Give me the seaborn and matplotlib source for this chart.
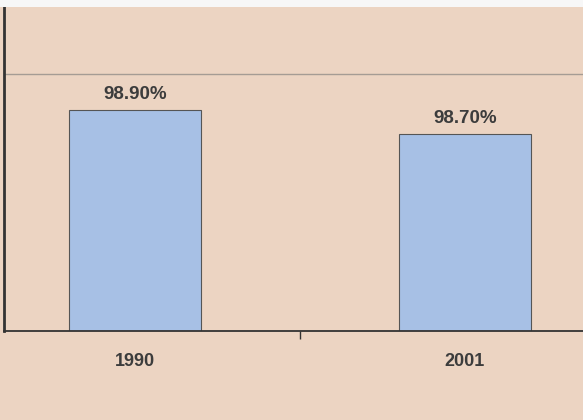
import pandas as pd
import numpy as np
import seaborn as sns
import matplotlib.pyplot as plt
from matplotlib.patches import Rectangle

# data
years = ["1990", "2001"]
values = [98.90, 98.70]
value_labels = ["98.90%", "98.70%"]

df = pd.DataFrame({"year": years, "value": values})

bg = "#ECD4C2"
bar_color = "#A7C0E5"
text_color = "#3C3C3C"

plt.rcParams["font.family"] = ["Liberation Sans", "DejaVu Sans"]

fig = plt.figure(figsize=(5.83, 4.2), dpi=100, facecolor=bg)
# white strip along the top
fig.patches.append(Rectangle((0, 1 - 7 / 420), 1, 7 / 420, transform=fig.transFigure,
                             facecolor="#F7F7F7", edgecolor="none", zorder=0))

ax = fig.add_axes([4 / 583, 89 / 420, 1 - 4 / 583, 324 / 420])
ax.set_facecolor(bg)

sns.barplot(data=df, x="year", y="value", color=bar_color, width=0.4,
            edgecolor="#555555", linewidth=0.8, saturation=1, ax=ax, zorder=3)

ax.set_xlim(-0.397, 1.358)
ax.set_ylim(97.06, 99.76)

# horizontal gridline
ax.set_yticks([99.2])
ax.yaxis.grid(True, color="#A59C94", linewidth=1)
ax.set_axisbelow(True)
ax.tick_params(axis="y", length=0, labelleft=False)

# category labels and boundary tick
ax.set_xticks([0, 1])
ax.set_xticklabels(years, fontsize=13, fontweight="bold", color=text_color)
ax.tick_params(axis="x", length=0, pad=16)
ax.set_xticks([0.5], minor=True)
ax.tick_params(axis="x", which="minor", length=6, width=1, color="#333333", direction="out")

ax.set_xlabel("")
ax.set_ylabel("")

for side in ["top", "right"]:
    ax.spines[side].set_visible(False)
ax.spines["left"].set_color("#333333")
ax.spines["left"].set_linewidth(2)
ax.spines["bottom"].set_color("#333333")
ax.spines["bottom"].set_linewidth(1.3)
ax.spines["bottom"].set_zorder(5)

ax.bar_label(ax.containers[0], labels=value_labels, padding=5,
             fontsize=13.5, fontweight="bold", color=text_color)

fig.savefig("out.png", dpi=100, facecolor=bg)
